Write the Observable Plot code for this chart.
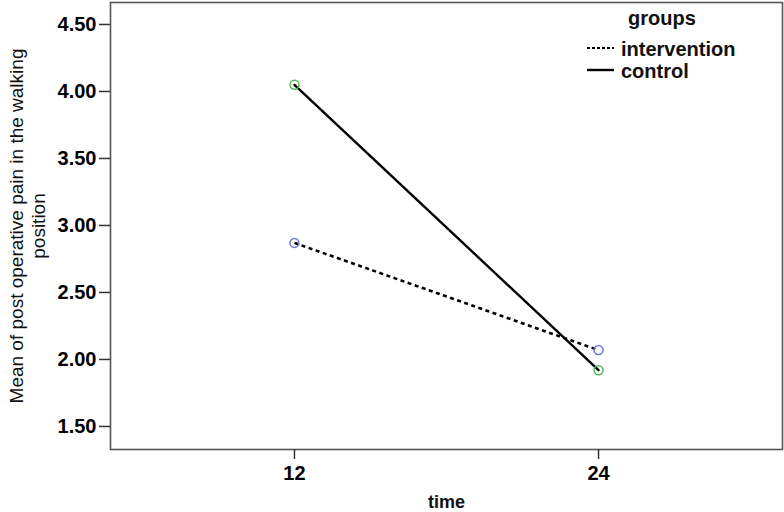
<!DOCTYPE html>
<html>
<head>
<meta charset="utf-8">
<script src="https://cdn.jsdelivr.net/npm/d3@7"></script>
<script src="https://cdn.jsdelivr.net/npm/@observablehq/plot@0.6"></script>
<style>
  html, body { margin: 0; padding: 0; background: #fff; }
  #wrap { position: relative; width: 784px; height: 512px; font-family: "Liberation Sans", Arial, sans-serif; }
  #legend { position: absolute; left: 0; top: 0; pointer-events: none; }
</style>
</head>
<body>
<div id="wrap"></div>
<script>
const times = [12, 24];
const groups = ["intervention", "control"];
const intervention = [2.87, 2.07];
const control = [4.05, 1.92];
const yTicks = [1.5, 2.0, 2.5, 3.0, 3.5, 4.0, 4.5];
const xTicks = [12, 24];
const yLabel = "Mean of post operative pain in the walking\nposition";
const xLabel = "time";
const legendTitle = "groups";

const series = { intervention, control };
const rows = groups.flatMap(g => times.map((t, i) => ({ group: g, time: t, value: series[g][i] })));
const colors = { intervention: "#6a78d1", control: "#55b85a" };

const font = "'Liberation Sans', Arial, sans-serif";

const chart = Plot.plot({
  width: 784,
  height: 512,
  marginLeft: 110,
  marginRight: 2,
  marginTop: 2,
  marginBottom: 63,
  style: { fontFamily: font, fontSize: "20px", color: "#000", background: "#fff" },
  x: { domain: [4.74, 31.26] },
  y: { domain: [1.328, 4.664] },
  marks: [
    Plot.frame({ stroke: "#555", strokeWidth: 1.6 }),
    Plot.axisY({ ticks: yTicks, tickFormat: d3.format(".2f"), tickSize: 11, tickPadding: 3, fontWeight: "bold", fontSize: 20, stroke: "#333", strokeWidth: 1.5, label: null }),
    Plot.axisX({ ticks: xTicks, tickSize: 10, tickPadding: 6, fontWeight: "bold", fontSize: 20, stroke: "#333", strokeWidth: 1.5, label: null }),
    Plot.line(rows.filter(d => d.group === "control"), { x: "time", y: "value", stroke: "#000", strokeWidth: 2.4 }),
    Plot.line(rows.filter(d => d.group === "intervention"), { x: "time", y: "value", stroke: "#000", strokeWidth: 2.6, strokeDasharray: "4,3.5", strokeLinecap: "butt" }),
    Plot.dot(rows, { x: "time", y: "value", r: 4.5, stroke: d => colors[d.group], strokeWidth: 1.5, fill: "none" }),
    Plot.text([yLabel], { text: d => d, frameAnchor: "left", textAnchor: "middle", rotate: -90, dx: -84, lineHeight: 1.17, fontSize: 19, fill: "#111" }),
    Plot.text([xLabel], { text: d => d, frameAnchor: "bottom", dy: 58, fontSize: 18, fontWeight: "bold", fill: "#111" })
  ]
});

const wrap = document.getElementById("wrap");
wrap.appendChild(chart);

// legend overlay
const ns = "http://www.w3.org/2000/svg";
const lg = document.createElementNS(ns, "svg");
lg.setAttribute("id", "legend");
lg.setAttribute("width", 784);
lg.setAttribute("height", 512);
function txt(x, y, s) {
  const t = document.createElementNS(ns, "text");
  t.setAttribute("x", x); t.setAttribute("y", y);
  t.setAttribute("font-family", font); t.setAttribute("font-size", "20");
  t.setAttribute("font-weight", "bold"); t.setAttribute("fill", "#111");
  t.textContent = s; lg.appendChild(t);
}
function ln(y, dash) {
  const l = document.createElementNS(ns, "line");
  l.setAttribute("x1", 587); l.setAttribute("x2", 614);
  l.setAttribute("y1", y); l.setAttribute("y2", y);
  l.setAttribute("stroke", "#000"); l.setAttribute("stroke-width", dash ? 2 : 2.4);
  if (dash) l.setAttribute("stroke-dasharray", "3,2");
  lg.appendChild(l);
}
txt(628, 25, legendTitle);
ln(48, true); txt(621, 56, groups[0]);
ln(70, false); txt(621, 78, groups[1]);
wrap.appendChild(lg);
</script>
</body>
</html>
